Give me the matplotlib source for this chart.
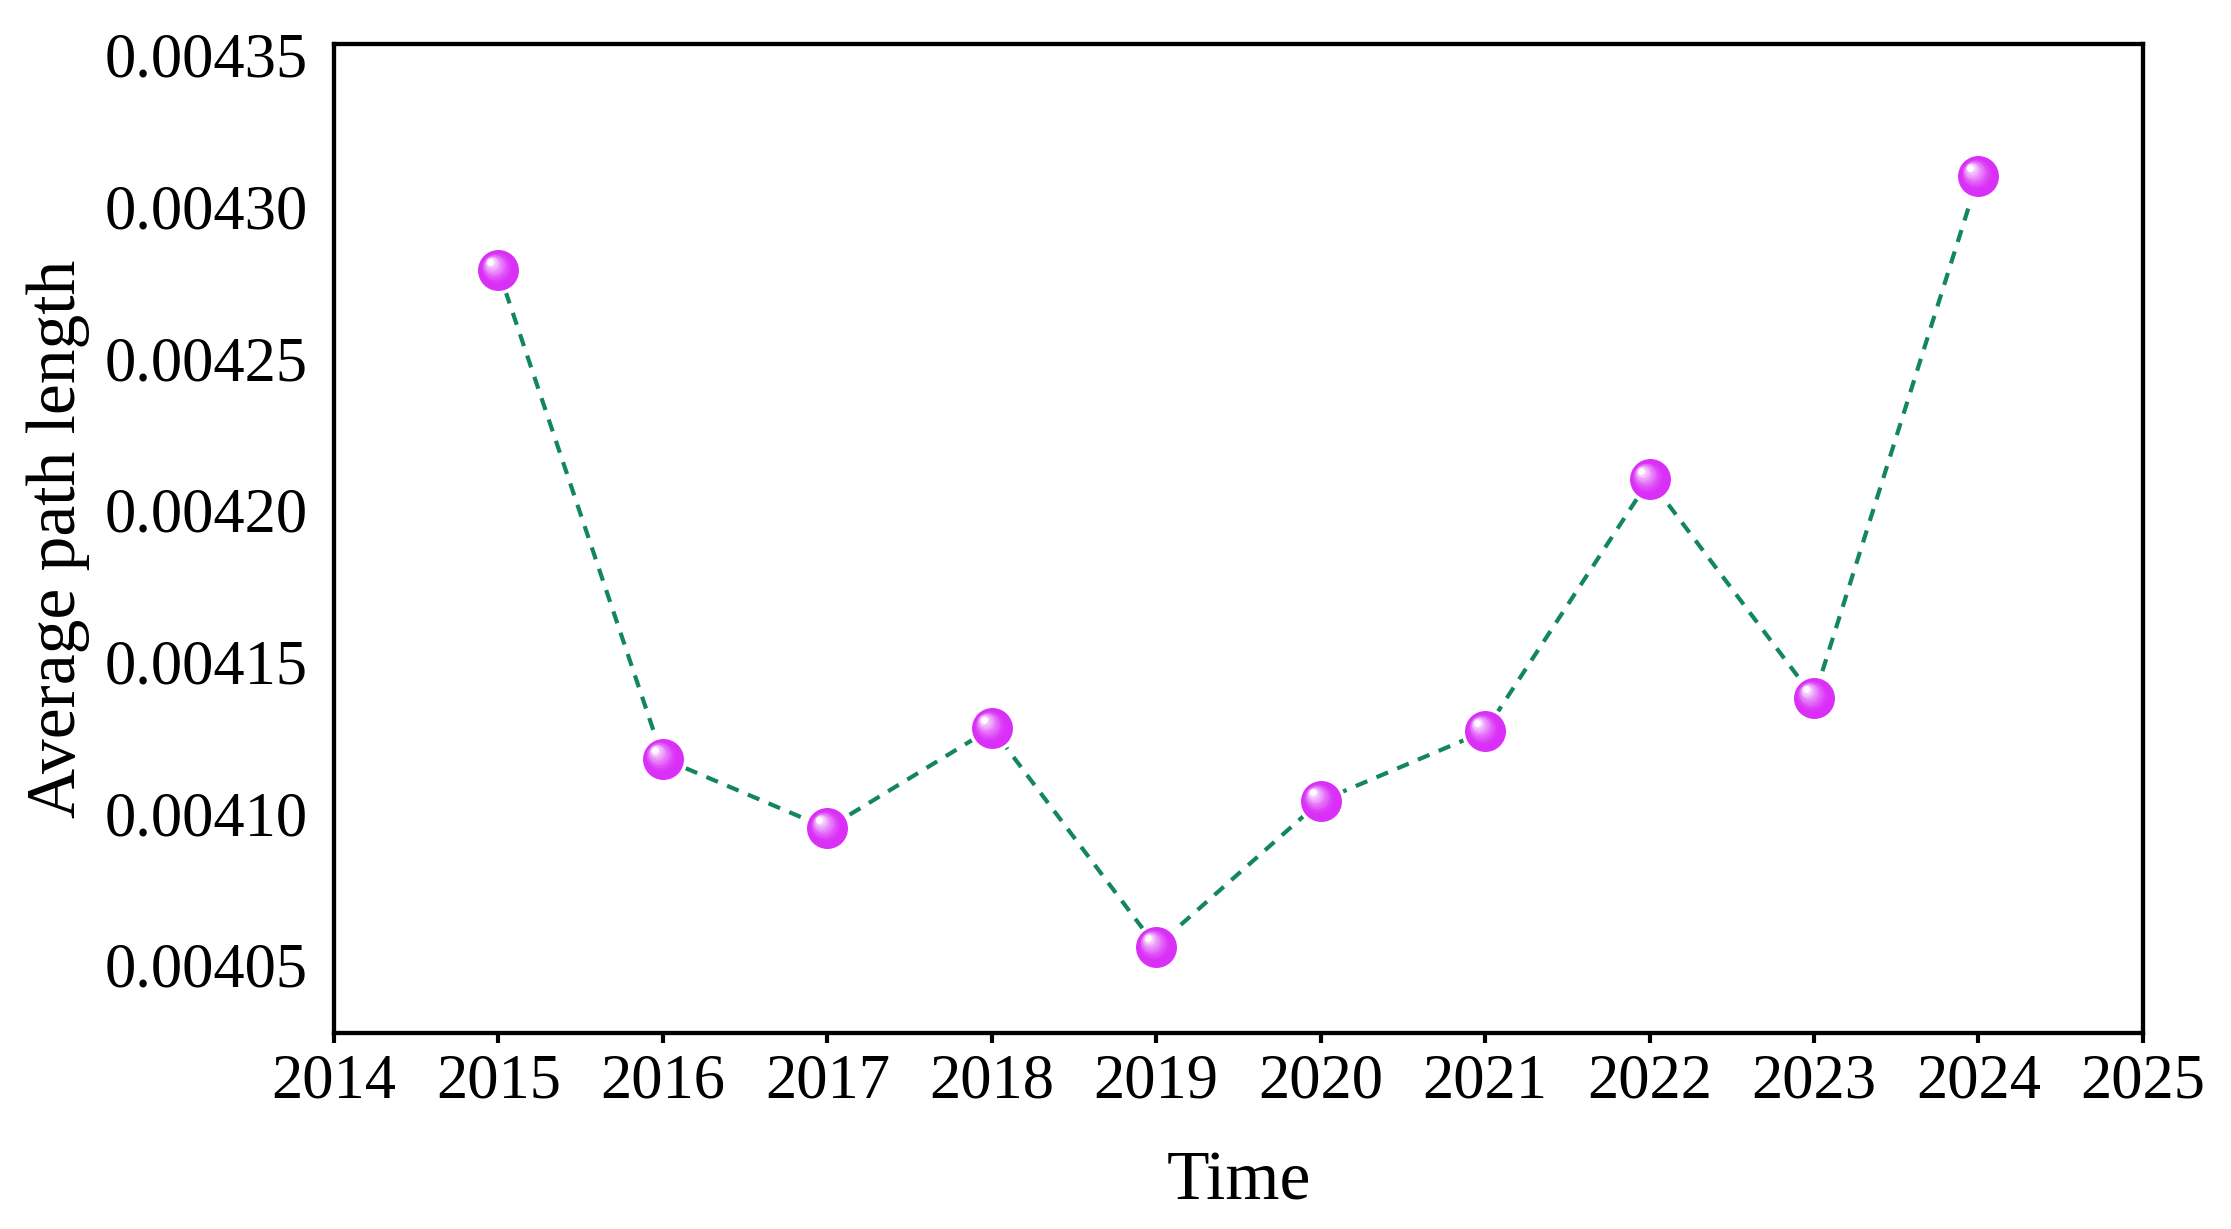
import numpy as np
import matplotlib.pyplot as plt
from matplotlib.colors import to_rgb
from matplotlib.transforms import offset_copy

plt.rcParams['font.family'] = ['Liberation Serif', 'DejaVu Serif']

years = [2015, 2016, 2017, 2018, 2019, 2020, 2021, 2022, 2023, 2024]
avg_path = [0.004279, 0.004118, 0.004095, 0.004128, 0.004056,
            0.004104, 0.004127, 0.004210, 0.004138, 0.004310]
xticks = list(range(2014, 2026))
yticks = [0.00405, 0.00410, 0.00415, 0.00420, 0.00425, 0.00430, 0.00435]

fig = plt.figure(figsize=(22.31, 12.29), dpi=100)
ax = fig.add_axes([0.1497, 0.1595, 0.8108, 0.8047])

ax.plot(years, avg_path, color='#12875c', linewidth=3.0, dashes=(3.0, 2.4), zorder=2)

# sphere-looking markers: base circle, then a soft highlight built from
# shrinking, lightening circles shifted toward the upper left
base = np.array(to_rgb('#da2ff6'))
ax.plot(years, avg_path, 'o', ms=32, color=base, mec='white', mew=2.5, ls='none', zorder=3)
n = 10
for i in range(n):
    t = (i + 1) / n
    ms = 24 * (1 - t) + 5 * t
    col = base * (1 - t) + np.ones(3) * t
    col = np.clip(base + (np.ones(3) - base) * t ** 1.3, 0, 1)
    tr = offset_copy(ax.transData, fig=fig, x=-4.8 * t - 1, y=5.2 * t + 1, units='points')
    ax.plot(years, avg_path, 'o', ms=ms, color=col, mew=0, ls='none',
            transform=tr, zorder=4, alpha=0.55 if i < n - 1 else 0.9)

ax.set_xlim(2014, 2025)
ax.set_ylim(0.0040275, 0.0043536)
ax.set_xticks(xticks)
ax.set_yticks(yticks)
ax.set_yticklabels([f'{v:.5f}' for v in yticks])

ax.tick_params(axis='x', direction='out', length=7, width=3, labelsize=45, pad=8,
               top=False)
ax.tick_params(axis='y', length=0, labelsize=45, pad=19, right=False)
for sp in ax.spines.values():
    sp.set_linewidth(3.1)

ax.set_xlabel('Time', fontsize=50, labelpad=28)
ax.set_ylabel('Average path length', fontsize=50, labelpad=10)

fig.savefig('out.png', dpi=100)
